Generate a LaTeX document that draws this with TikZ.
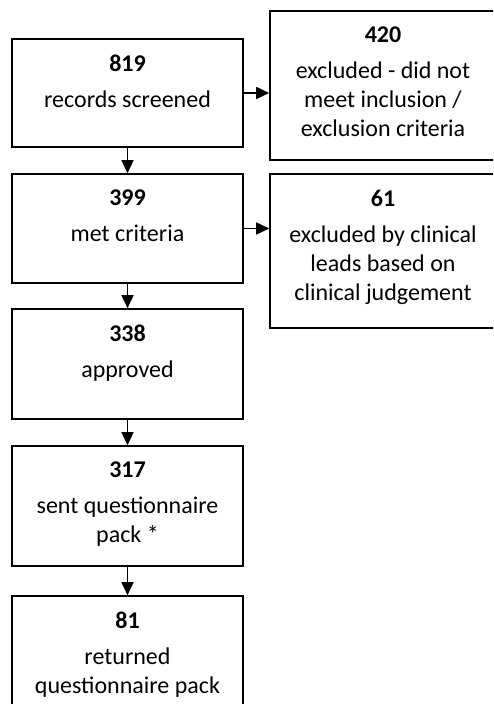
\documentclass[tikz,border=0pt]{standalone}
\usepackage{fontspec}
\setmainfont{Carlito}
\usetikzlibrary{arrows.meta}

\begin{document}
\begin{tikzpicture}[x=0.5pt, y=-0.5pt, line width=0.8pt,
    >={Triangle[length=6.5pt, width=6pt]},
    leftbox/.style={rectangle, draw, minimum width=115.5pt},
    rightbox/.style={rectangle, draw, minimum width=113pt},
    txt/.style={anchor=north, align=center, inner sep=0pt, yshift=-7.9pt,
        font=\fontsize{12pt}{14.5pt}\selectfont}]
    \useasboundingbox (0,0) rectangle (493,704);
    \clip (0,0) rectangle (493,704);

    % Main column
    \node[leftbox, minimum height=54pt, label={[txt]north:{\textbf{819}\\[3.5pt]records screened}}] (screened) at (127.5,93) {};
    \node[leftbox, minimum height=54.5pt, label={[txt]north:{\textbf{399}\\[3.5pt]met criteria}}] (met) at (127.5,228.5) {};
    \node[leftbox, minimum height=55pt, label={[txt]north:{\textbf{338}\\[3.5pt]approved}}] (approved) at (127.5,364) {};
    \node[leftbox, minimum height=60pt, label={[txt]north:{\textbf{317}\\[3.5pt]sent questionnaire\\pack *}}] (sent) at (127.5,506) {};
    \node[leftbox, minimum height=60pt, label={[txt]north:{\textbf{81}\\[3.5pt]returned\\questionnaire pack}}] (returned) at (127.5,656) {};

    % Exclusions
    \node[rightbox, minimum height=74.5pt, label={[txt]north:{\textbf{420}\\[3.5pt]excluded - did not\\meet inclusion /\\exclusion criteria}}] (excluded) at (383,85.5) {};
    \node[rightbox, minimum height=77pt, label={[txt]north:{\textbf{61}\\[3.5pt]excluded by clinical\\leads based on\\clinical judgement}}] (clinical) at (383,251) {};

    % Connections
    \draw[->] (screened) -- (met);
    \draw[->] (met) -- (approved);
    \draw[->] (approved) -- (sent);
    \draw[->] (sent) -- (returned);
    \draw[->] (screened) -- (screened -| excluded.west);
    \draw[->] (met) -- (met -| clinical.west);
\end{tikzpicture}
\end{document}
